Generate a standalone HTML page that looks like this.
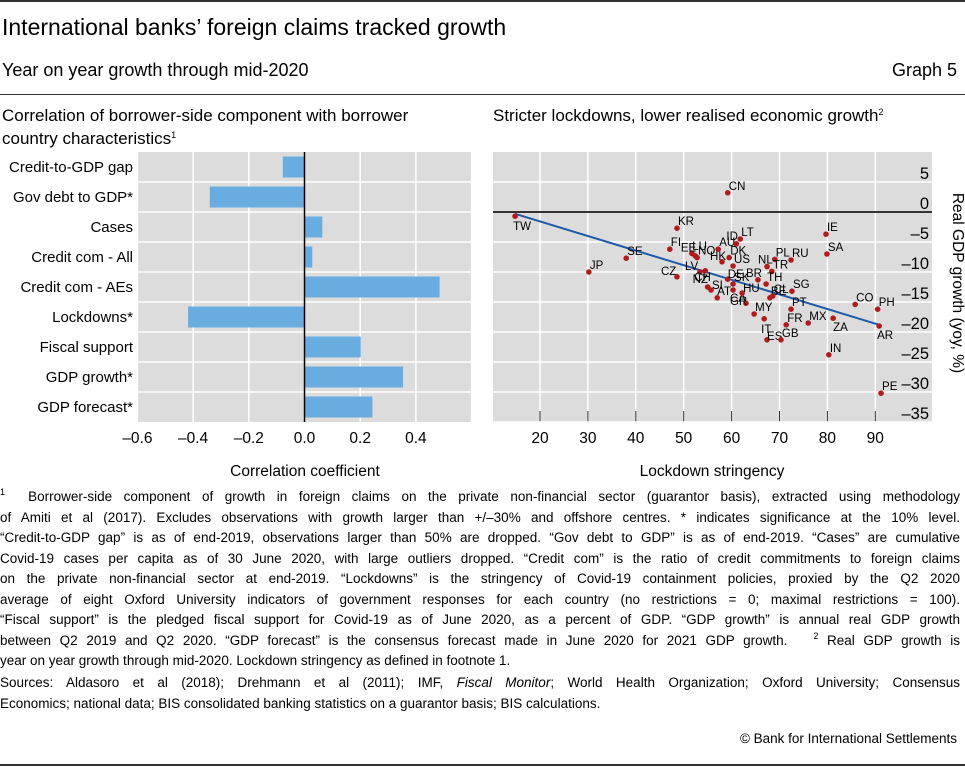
<!DOCTYPE html>
<html><head><meta charset="utf-8">
<style>
body{margin:0;width:965px;height:767px;position:relative;background:#fff;font-family:"Liberation Sans",sans-serif;color:#000;overflow:hidden}
.abs{position:absolute}
.fn{position:absolute;left:0;width:960px;font-size:13.5px;line-height:20.5px}
.fn div{height:20.5px;text-align:justify;text-align-last:justify;white-space:nowrap;overflow:hidden}
.fn div.last{text-align-last:left}
sup{font-size:9px;line-height:0;vertical-align:0;position:relative;top:-6px}
</style></head><body>
<div class="abs" style="left:0;top:0;width:965px;height:2px;background:#333"></div>
<div class="abs" style="left:2px;top:14px;font-size:23px">International banks’ foreign claims tracked growth</div>
<div class="abs" style="left:2px;top:60px;font-size:18px">Year on year growth through mid-2020</div>
<div class="abs" style="right:8px;top:60px;font-size:18px">Graph 5</div>
<div class="abs" style="left:0;top:94px;width:965px;height:1px;background:#333"></div>
<div class="abs" style="left:2px;top:104px;font-size:17px;line-height:23px;white-space:nowrap">Correlation of borrower-side component with borrower<br>country characteristics<sup>1</sup></div>
<div class="abs" style="left:493px;top:104px;font-size:17px;line-height:23px;white-space:nowrap">Stricter lockdowns, lower realised economic growth<sup>2</sup></div>

<svg class="abs" style="left:0;top:0" width="965" height="490" font-family="Liberation Sans, sans-serif">
<g id="left"></g>
<g id="right"></g>
</svg>

<div class="fn" style="top:487px">
<div><sup>1</sup>&nbsp; Borrower-side component of growth in foreign claims on the private non-financial sector (guarantor basis), extracted using methodology</div>
<div>of Amiti et al (2017). Excludes observations with growth larger than +/–30% and offshore centres. * indicates significance at the 10% level.</div>
<div>“Credit-to-GDP gap” is as of end-2019, observations larger than 50% are dropped. “Gov debt to GDP” is as of end-2019. “Cases” are cumulative</div>
<div>Covid-19 cases per capita as of 30 June 2020, with large outliers dropped. “Credit com” is the ratio of credit commitments to foreign claims</div>
<div>on the private non-financial sector at end-2019. “Lockdowns” is the stringency of Covid-19 containment policies, proxied by the Q2 2020</div>
<div>average of eight Oxford University indicators of government responses for each country (no restrictions = 0; maximal restrictions = 100).</div>
<div>“Fiscal support” is the pledged fiscal support for Covid-19 as of June 2020, as a percent of GDP. “GDP growth” is annual real GDP growth</div>
<div>between Q2 2019 and Q2 2020. “GDP forecast” is the consensus forecast made in June 2020 for 2021 GDP growth. &nbsp; <sup>2</sup> Real GDP growth is</div>
<div class="last">year on year growth through mid-2020. Lockdown stringency as defined in footnote 1.</div>
</div>
<div class="fn" style="top:673px">
<div>Sources: Aldasoro et al (2018); Drehmann et al (2011); IMF, <i>Fiscal Monitor</i>; World Health Organization; Oxford University; Consensus</div>
<div class="last">Economics; national data; BIS consolidated banking statistics on a guarantor basis; BIS calculations.</div>
</div>
<div class="abs" style="right:8px;top:731px;font-size:13.5px">© Bank for International Settlements</div>
<div class="abs" style="left:0;top:764px;width:965px;height:2px;background:#333"></div>

<script>
const categories=["Credit-to-GDP gap","Gov debt to GDP*","Cases","Credit com - All","Credit com - AEs","Lockdowns*","Fiscal support","GDP growth*","GDP forecast*"];
const correlations=[-0.078,-0.34,0.064,0.028,0.485,-0.418,0.202,0.354,0.244];
const corrTicks=[-0.6,-0.4,-0.2,0.0,0.2,0.4];
const countries=["TW","KR","FI","EE","LU","NO","AU","HK","SE","JP","CZ","LV","ID","LT","CN","IE","SA","DK","US","PL","RU","NL","TR","BR","TH","DE","CH","NZ","SI","SK","CA","AT","HU","BE","CL","SG","GR","MY","IT","PT","FR","MX","ZA","CO","PH","AR","ES","GB","IN","PE"];
const stringency=[14.8,48.6,47.1,51.7,52.4,52.8,57.2,58,38,30.2,48.6,53.4,61,61.8,59.2,79.7,79.9,59.5,60.3,69,72.4,67.4,68.4,65.5,67.2,59.2,54.5,55,55.7,60.3,60.3,57,62.2,68,68.6,72.6,63,64.7,66.8,72.4,71.4,76,81.2,85.8,90.5,90.8,67.4,70.3,80.3,91.2];
const gdpGrowth=[-0.7,-2.7,-6.2,-6.9,-7.3,-7.6,-6.2,-8.3,-7.7,-10,-10.8,-10,-5.3,-4.5,3.2,-3.7,-7,-7.6,-9,-7.9,-8,-9.1,-9.9,-11.3,-12,-11.2,-9.8,-12.5,-13,-12,-13,-14.3,-13.5,-14.3,-14,-13.2,-15.2,-17,-17.8,-16.2,-18.8,-18.5,-17.7,-15.4,-16.2,-19,-21.3,-21.3,-23.8,-30.2];
const xTicks=[20,30,40,50,60,70,80,90];
const yTicks=[5,0,-5,-10,-15,-20,-25,-30,-35];
const trendX=[14.8,90.8];
const trendY=[-0.3,-18.8];

const NS="http://www.w3.org/2000/svg";
function mk(parent,tag,attrs,text){const e=document.createElementNS(NS,tag);for(const k in attrs)e.setAttribute(k,attrs[k]);if(text!==undefined)e.textContent=text;parent.appendChild(e);return e;}

// Left chart
const L=document.getElementById('left');
const lx=v=>304.5+v/0.2*55.7;
const rowTop=152,rowH=30;
let bg=mk(L,'rect',{x:138,y:rowTop,width:334,height:rowH*categories.length,fill:'#dcdcdc'});


corrTicks.concat([0.6]).forEach(t=>{mk(L,'line',{x1:lx(t),x2:lx(t),y1:rowTop,y2:rowTop+rowH*categories.length,stroke:'#fff','stroke-width':1.5});});
for(let i=1;i<categories.length;i++){mk(L,'line',{x1:138,x2:472,y1:rowTop+i*rowH,y2:rowTop+i*rowH,stroke:'#fff','stroke-width':1.5});}
categories.forEach((c,i)=>{
  const v=correlations[i];
  const r=mk(L,'rect',{x:Math.min(lx(0),lx(v)),y:rowTop+i*rowH+4.5,width:Math.abs(lx(v)-lx(0)),height:21,fill:'#69ace0'});
  
  
  const t=mk(L,'text',{x:133,y:rowTop+i*rowH+20,'text-anchor':'end','font-size':15},c);
  
  
});
mk(L,'line',{x1:lx(0),x2:lx(0),y1:rowTop,y2:rowTop+rowH*categories.length,stroke:'#000','stroke-width':1.5});
corrTicks.forEach(t=>{
  const e=mk(L,'text',{x:lx(t),y:443,'text-anchor':'middle','font-size':15.5},(t<0?'\u2013':'')+Math.abs(t).toFixed(1));
  
  
});
let xt=mk(L,'text',{x:305,y:476,'text-anchor':'middle','font-size':15.5},'Correlation coefficient');



// Right chart
const R=document.getElementById('right');
const sx=v=>540+(v-20)*4.79;
const sy=v=>212-v*6;
let bg2=mk(R,'rect',{x:493,y:152,width:439,height:270,fill:'#dcdcdc'});


xTicks.forEach(t=>{mk(R,'line',{x1:sx(t),x2:sx(t),y1:152,y2:422,stroke:'#fff','stroke-width':1.5});mk(R,'line',{x1:sx(t),x2:sx(t),y1:411,y2:422,stroke:'#333','stroke-width':1});
  const e=mk(R,'text',{x:sx(t),y:443,'text-anchor':'middle','font-size':15.5},String(t));
  
  });
yTicks.forEach(t=>{mk(R,'line',{x1:493,x2:932,y1:sy(t),y2:sy(t),stroke:t===0?'#333':'#fff','stroke-width':t===0?2:1.5});
  const e=mk(R,'text',{x:929,y:sy(t)-3,'text-anchor':'end','font-size':16.5},(t<0?'\u2013':'')+Math.abs(t));
  
  });
let tl=mk(R,'line',{x1:sx(trendX[0]),y1:sy(trendY[0]),x2:sx(trendX[1]),y2:sy(trendY[1]),stroke:'#1f5aa8','stroke-width':2});


const off={TW:[-2,14],CZ:[-16,-2],LV:[-15,-2],GR:[-16,2],NZ:[-15,-4],AT:[0,-3],CA:[-3,12],IT:[-3,14],ZA:[0,13],AR:[-2,13],CH:[-11,10],HK:[-12,-2],EE:[-11,-2],LU:[-3,-6],SI:[1,-1],ES:[0,0],DE:[0,-1],BR:[-12,-3],NL:[-9,-3],ID:[-10,-4],HU:[1,-1]};
countries.forEach((c,i)=>{
  const x=sx(stringency[i]),y=sy(gdpGrowth[i]);
  const p=mk(R,'circle',{cx:x,cy:y,r:2.8,fill:'#b01c1c'});
  
  
  const o=off[c]||[1,-3];
  const t=mk(R,'text',{x:x+o[0],y:y+o[1],'font-size':11.5},c);
  
  
});
let rx=mk(R,'text',{x:712,y:476,'text-anchor':'middle','font-size':15.5},'Lockdown stringency');


let ry=mk(R,'text',{x:0,y:0,'text-anchor':'middle','font-size':15.5,transform:'translate(953,283) rotate(90)'},'Real GDP growth (yoy, %)');


</script>
</body></html>
